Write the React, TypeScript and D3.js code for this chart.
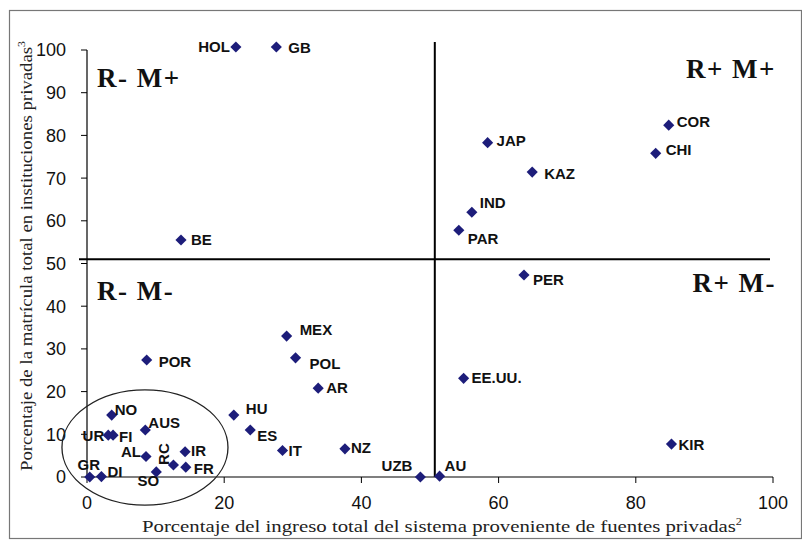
import React from "react";
import * as d3 from "d3";

const countries = ["HOL","GB","COR","CHI","JAP","KAZ","IND","PAR","PER","BE","MEX","POL","AR","HU","ES","IT","NZ","UZB","AU","EE.UU.","KIR","POR","NO","UR","FI","AUS","AL","RC","IR","FR","SO","GR","DI"];
const privateIncome = [21.7,27.6,84.8,82.9,58.4,64.9,56.1,54.2,63.7,13.7,29.1,30.4,33.7,21.4,23.8,28.5,37.6,48.6,51.4,54.9,85.2,8.7,3.6,3.1,3.8,8.5,8.6,12.6,14.3,14.4,10.1,0.4,2.1];
const privateEnrolment = [100.7,100.7,82.4,75.8,78.3,71.4,62.0,57.8,47.3,55.5,33.0,27.9,20.8,14.5,11.0,6.2,6.6,0,0.2,23.1,7.7,27.4,14.5,9.8,9.8,11.0,4.8,2.8,5.9,2.3,1.2,0,0.1];

const xTicks = [0,20,40,60,80,100];
const yTicks = [0,10,20,30,40,50,60,70,80,90,100];
const quadrantLabels = ["R- M+","R+ M+","R- M-","R+ M-"];
const xTitle = "Porcentaje del ingreso total del sistema proveniente de fuentes privadas";
const yTitle = "Porcentaje de la matrícula total en instituciones privadas";

// label placement (layout only): [dx, dy, anchor, rotate]
const labelLayout: Record<string, [number, number, string, number?]> = {
  HOL: [-6, 0, "end"], GB: [12, 1, "start"], COR: [8, -4, "start"], CHI: [10, -4, "start"],
  JAP: [9, -2, "start"], KAZ: [12, 1, "start"], IND: [8, -10, "start"], PAR: [9, 8, "start"],
  PER: [9, 5, "start"], BE: [10, 0, "start"], MEX: [13, -6, "start"], POL: [14, 6, "start"],
  AR: [8, -1, "start"], HU: [12, -6, "start"], ES: [7, 6, "start"], IT: [6, 0, "start"],
  NZ: [6, -1, "start"], UZB: [-8, -11, "end"], AU: [5, -11, "start"], "EE.UU.": [8, -1, "start"],
  KIR: [7, 0, "start"], POR: [12, 2, "start"], NO: [3, -5, "start"], UR: [-4, 0, "end"],
  FI: [6, 1, "start"], AUS: [3, -7, "start"], AL: [-5, -5, "end"], RC: [-10, -11, "middle", -90],
  IR: [6, -1, "start"], FR: [8, 1, "start"], SO: [3, 9, "end"], GR: [-1, -12, "middle"], DI: [6, -5, "start"],
};

export default function App() {
  const W = 802, H = 544;
  const x = d3.scaleLinear().domain([0, 100]).range([87, 773]);
  const y = d3.scaleLinear().domain([0, 100]).range([477, 50]);
  const diamond = d3.symbol().type(d3.symbolSquare).size(62)() as string;
  const navy = "#1d1d7a";
  const xThr = 50.7, yThr = 51;
  const ell = { cx: x(8.45), cy: y(6.9), rx: x(12.1) - x(0), ry: y(0) - y(13.5) };
  const quadPos: [number, number, string][] = [
    [97, 87, "start"], [776, 78, "end"], [97, 300, "start"], [776, 292, "end"],
  ];
  return (
    <svg width={W} height={H} style={{ position: "absolute", left: 0, top: 0, background: "#fff" }}>
      <rect x={9.5} y={10.5} width={792} height={528} fill="none" stroke="#777" strokeWidth={1.2} />
      {/* axes */}
      <line x1={x(0)} x2={x(0)} y1={y(100)} y2={y(0)} stroke="#000" strokeWidth={1.2} />
      <line x1={x(0)} x2={x(100)} y1={y(0)} y2={y(0)} stroke="#000" strokeWidth={1.2} />
      {yTicks.map((t) => (
        <g key={"yt" + t}>
          <line x1={x(0) - 6} x2={x(0)} y1={y(t)} y2={y(t)} stroke="#000" />
          <text x={x(0) - 21} y={y(t)} dy="0.36em" textAnchor="end" fontFamily="Liberation Sans, Arial, sans-serif" fontSize={18} fill="#111">{t}</text>
        </g>
      ))}
      {xTicks.map((t) => (
        <g key={"xt" + t}>
          <line x1={x(t)} x2={x(t)} y1={y(0)} y2={y(0) + 6} stroke="#000" />
          <text x={x(t)} y={503} dy="0.36em" textAnchor="middle" fontFamily="Liberation Sans, Arial, sans-serif" fontSize={18} fill="#111">{t}</text>
        </g>
      ))}
      {/* quadrant lines */}
      <line x1={x(0) - 8} x2={x(100) - 3} y1={y(yThr)} y2={y(yThr)} stroke="#000" strokeWidth={2} />
      <line x1={x(xThr)} x2={x(xThr)} y1={42} y2={y(0)} stroke="#000" strokeWidth={2} />
      {quadrantLabels.map((q, i) => (
        <text key={q} x={quadPos[i][0]} y={quadPos[i][1]} textAnchor={quadPos[i][2] as any}
          fontFamily="Liberation Serif, Times New Roman, serif" fontWeight="bold" fontSize={27} letterSpacing={1.5} fill="#111">{q}</text>
      ))}
      {/* ellipse */}
      <ellipse cx={ell.cx} cy={ell.cy} rx={ell.rx} ry={ell.ry} fill="none" stroke="#222" strokeWidth={1.3} />
      {/* points */}
      {countries.map((c, i) => (
        <path key={"p" + c} d={diamond} transform={`translate(${x(privateIncome[i])},${y(privateEnrolment[i])}) rotate(45)`} fill={navy} />
      ))}
      {countries.map((c, i) => {
        const [dx, dy, anchor, rot] = labelLayout[c];
        const px = x(privateIncome[i]) + dx, py = y(privateEnrolment[i]) + dy;
        return (
          <text key={"l" + c} x={px} y={py} dy="0.36em" textAnchor={anchor as any}
            transform={rot ? `rotate(${rot},${px},${py})` : undefined}
            fontFamily="Liberation Sans, Arial, sans-serif" fontWeight="bold" fontSize={15} fill="#111">{c}</text>
        );
      })}
      {/* axis titles */}
      <text x={442} y={532} textAnchor="middle" fontFamily="Liberation Serif, Times New Roman, serif" fontSize={17} fill="#222"
        textLength={600} lengthAdjust="spacingAndGlyphs">
        {xTitle}<tspan fontSize={10} dy={-7}>2</tspan>
      </text>
      <text transform={`translate(32,256) rotate(-90)`} textAnchor="middle" fontFamily="Liberation Serif, Times New Roman, serif" fontSize={16} fill="#222"
        textLength={430} lengthAdjust="spacingAndGlyphs">
        {yTitle}<tspan fontSize={10} dy={-7}>3</tspan>
      </text>
    </svg>
  );
}
